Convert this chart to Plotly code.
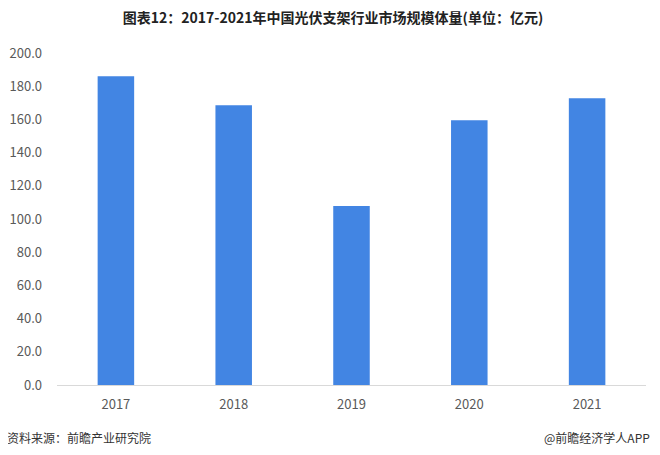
import plotly.graph_objects as go

years = ["2017", "2018", "2019", "2020", "2021"]
values = [186.0, 168.5, 107.8, 159.5, 172.8]
y_ticks = [0, 20, 40, 60, 80, 100, 120, 140, 160, 180, 200]
y_tick_labels = [f"{v:.1f}" for v in y_ticks]

title_text = "图表12：2017-2021年中国光伏支架行业市场规模体量(单位：亿元)"
source_text = "资料来源：前瞻产业研究院"
credit_text = "@前瞻经济学人APP"

font_family = "Noto Sans CJK SC, Microsoft YaHei, sans-serif"

# page body has an 8px default margin, so the figure is offset by (8, 8)
OFF = 8
W, H = 660 - OFF, 455 - OFF
L, R, T, B = 57 - OFF, 14, 53 - OFF, 70
PW, PH = W - L - R, H - T - B

fig = go.Figure(
    go.Bar(
        x=years,
        y=values,
        marker=dict(color="#4285E3", line=dict(width=0)),
        width=0.31,
    )
)

fig.update_layout(
    width=W,
    height=H,
    margin=dict(l=L, r=R, t=T, b=B, autoexpand=False),
    paper_bgcolor="white",
    plot_bgcolor="white",
    showlegend=False,
    font=dict(family=font_family, color="#595959", size=12),
    title=dict(
        text="<b>" + title_text + "</b>",
        x=(333 - OFF) / W,
        xanchor="center",
        xref="container",
        y=1 - (18 - OFF) / H,
        yanchor="middle",
        yref="container",
        font=dict(family=font_family, size=14, color="#222222"),
    ),
    xaxis=dict(
        showgrid=False,
        showline=True,
        linecolor="#D9D9D9",
        linewidth=1,
        ticks="",
        automargin=False,
        ticklabelstandoff=7,
        tickfont=dict(size=13, color="#595959"),
    ),
    yaxis=dict(
        range=[0, 200],
        tickvals=y_ticks,
        ticktext=y_tick_labels,
        showgrid=False,
        zeroline=False,
        showline=False,
        ticks="",
        automargin=False,
        ticklabelstandoff=14,
        tickfont=dict(size=13, color="#595959"),
    ),
    annotations=[
        dict(
            text=source_text,
            xref="paper", yref="paper",
            x=(5 - 57) / PW, y=-(437 - 385) / PH,
            xanchor="left", yanchor="middle",
            showarrow=False,
            font=dict(size=12, color="#333333", family=font_family),
        ),
        dict(
            text=credit_text,
            xref="paper", yref="paper",
            x=(652 - 57) / PW, y=-(437 - 385) / PH,
            xanchor="right", yanchor="middle",
            showarrow=False,
            font=dict(size=12, color="#333333", family=font_family),
        ),
    ],
)

fig.write_html("out.html")
